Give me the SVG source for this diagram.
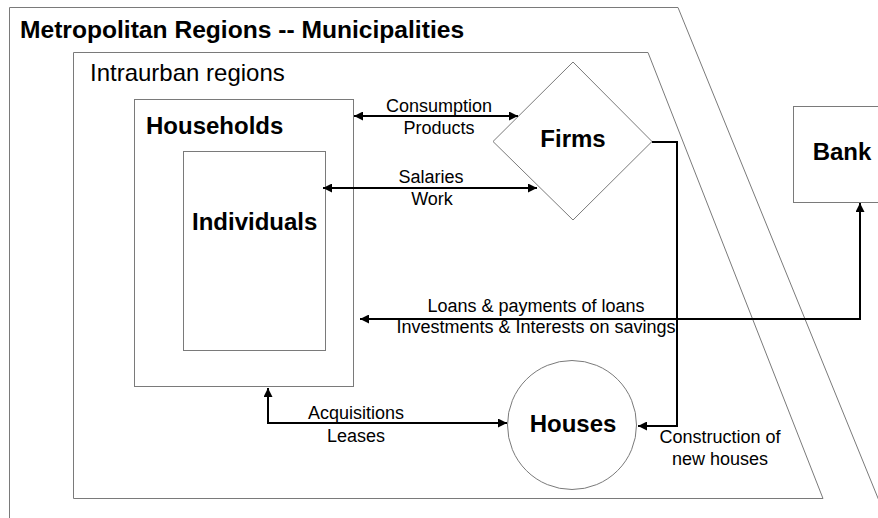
<svg xmlns="http://www.w3.org/2000/svg" width="878" height="518" viewBox="0 0 878 518">
<defs>
<style>
.reg{fill:none;stroke:#7a7a7a;stroke-width:1}
.node{fill:#fff;stroke:#7a7a7a;stroke-width:1}
.con{fill:none;stroke:#000;stroke-width:2}
.t{font-family:"Liberation Sans",Arial,sans-serif;fill:#000}
.b{font-weight:bold;font-size:24px}
.n{font-size:24px}
.l{font-size:18px;text-anchor:middle}
</style>
<marker id="ah" viewBox="0 0 10 10" refX="10" refY="5" markerWidth="10" markerHeight="9" markerUnits="userSpaceOnUse" orient="auto-start-reverse">
<path d="M0,0 L10,5 L0,10 z" fill="#000"/>
</marker>
</defs>
<rect width="878" height="518" fill="#fff"/>
<g id="metropolitan">
<path class="reg" d="M9.5,520 L9.5,7.5 L678,7.5 L882,508"/>
<text class="t b" x="20" y="38" style="font-size:24.6px">Metropolitan Regions -- Municipalities</text>
</g>
<g id="intraurban">
<path class="reg" d="M73.5,498.5 L73.5,52.5 L648,52.5 L823,498.5 Z"/>
<text class="t n" x="90" y="81">Intraurban regions</text>
</g>
<g id="households">
<rect class="node" x="134.5" y="99.5" width="219" height="287"/>
<text class="t b" x="146" y="134">Households</text>
</g>
<g id="individuals">
<rect class="node" x="183.5" y="151.5" width="142" height="199"/>
<text class="t b" x="192" y="230">Individuals</text>
</g>
<g id="firms">
<polygon class="node" points="573,62 652,141.5 573,220 493,141.5"/>
<text class="t b" x="573" y="147" text-anchor="middle">Firms</text>
</g>
<g id="bank">
<rect class="node" x="793.5" y="106.5" width="100" height="96"/>
<text class="t b" x="842" y="160" text-anchor="middle">Bank</text>
</g>
<g id="houses">
<circle class="node" cx="572" cy="425" r="64.5"/>
<text class="t b" x="573" y="432" text-anchor="middle">Houses</text>
</g>
<g id="connectors">
<line class="con" x1="354" y1="116" x2="518" y2="116" marker-start="url(#ah)" marker-end="url(#ah)"/>
<line class="con" x1="323" y1="188" x2="537" y2="188" marker-start="url(#ah)" marker-end="url(#ah)"/>
<polyline class="con" points="860,203 860,319 360,319" marker-start="url(#ah)" marker-end="url(#ah)"/>
<polyline class="con" points="652,142 677,142 677,426 638,426" marker-end="url(#ah)"/>
<polyline class="con" points="268,388 268,423 507,423" marker-start="url(#ah)" marker-end="url(#ah)"/>
<text class="t l" x="439" y="112">Consumption</text>
<text class="t l" x="439" y="134">Products</text>
<text class="t l" x="431" y="183">Salaries</text>
<text class="t l" x="432" y="205">Work</text>
<text class="t l" x="536" y="312">Loans &amp; payments of loans</text>
<text class="t l" x="536" y="333">Investments &amp; Interests on savings</text>
<text class="t l" x="356" y="419">Acquisitions</text>
<text class="t l" x="356" y="442">Leases</text>
<text class="t l" x="720" y="443">Construction of</text>
<text class="t l" x="720" y="465">new houses</text>
</g>
</svg>
